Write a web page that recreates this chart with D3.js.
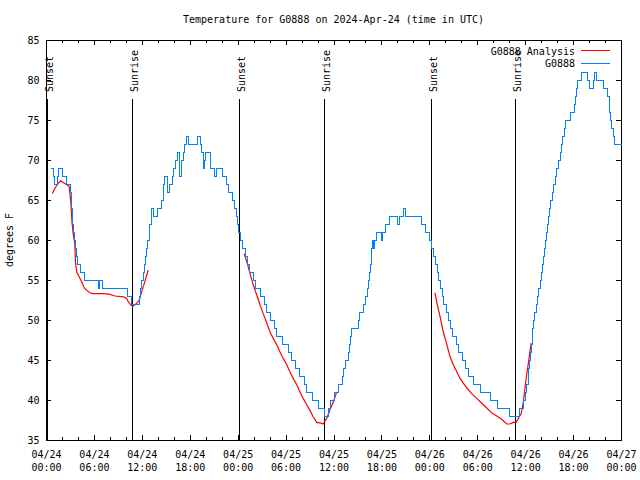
<!DOCTYPE html>
<html><head><meta charset="utf-8">
<script src="https://cdn.jsdelivr.net/npm/d3@7"></script>
<style>
body{margin:0;background:#fff}
svg{display:block;background:#fff}
text{font-family:"DejaVu Sans Mono","Liberation Mono",monospace;font-size:10px;fill:#000}
</style>
</head><body>
<svg id="c" width="640" height="480"></svg>
<script>
// ---------- data ----------
const chartTitle = "Temperature for G0888 on 2024-Apr-24 (time in UTC)";
const yAxisLabel = "degrees F";
const startTime = "2024-04-24T00:00:00Z";
const endTime = "2024-04-27T00:00:00Z";
const yTicks = [35, 40, 45, 50, 55, 60, 65, 70, 75, 80, 85];
const seriesNames = ["G0888 Analysis", "G0888"];
const seriesColors = ["#ff0000", "#0080ff"];

// observed (hours after 04/24 00:00 UTC, deg F), step data
const blueHours = [0.5,0.9,1.0,1.4,1.5,1.95,2.5,3.0,3.1,3.15,3.2,3.3,3.4,3.5,3.6,3.75,3.9,4.2,4.75,6.45,6.6,6.95,10.2,10.6,11.6,11.8,11.95,12.1,12.25,12.4,12.55,12.7,12.85,12.95,13.1,13.2,13.35,13.9,14.4,14.6,14.7,14.8,15.2,15.4,15.75,15.95,16.1,16.4,16.7,16.85,17.1,17.3,17.55,17.75,18.95,19.25,19.45,19.6,19.75,19.95,20.5,21.0,21.3,22.0,22.5,22.8,23.35,23.55,23.75,23.9,24.1,24.35,24.6,24.9,25.15,25.4,25.95,26.15,26.85,27.35,27.5,28.0,28.55,28.8,29.55,30.3,30.65,31.15,31.65,32.3,32.5,33.3,34.05,34.75,35.25,35.55,36.1,36.55,37.05,37.25,37.45,37.8,37.95,38.05,38.25,39.05,39.25,39.75,40.0,40.15,40.3,40.45,40.55,40.65,40.7,40.8,40.95,41.1,41.3,41.9,42.1,42.4,42.9,43.95,44.15,44.7,44.9,46.95,47.4,47.9,48.2,48.45,48.7,48.9,49.1,49.3,49.55,49.65,50.1,50.35,50.6,50.85,51.4,51.65,52.05,52.5,52.8,53.5,54.3,55.6,56.45,57.95,59.25,59.7,59.95,60.1,60.3,60.4,60.5,60.6,60.7,60.8,60.9,61.0,61.15,61.35,61.5,61.6,61.8,62.0,62.1,62.2,62.35,62.5,62.65,62.75,62.85,62.95,63.05,63.35,63.5,63.7,63.9,64.05,64.3,64.45,64.65,64.85,65.0,65.6,66.1,66.3,66.4,66.55,67.05,67.7,67.95,68.45,68.65,68.9,69.7,70.3,70.45,70.55,70.65,70.75,70.95,71.15,72.0];
const blueTemps = [69,68,67,68,69,68,67,66,65,64,63,62,61,60,59,58,57,56,55,54,55,54,53,52,53,54,55,56,57,58,59,60,61,62,63,64,63,64,65,66,67,68,66,67,68,69,70,71,68,70,71,72,73,72,73,72,71,69,70,71,69,68,69,68,67,66,65,64,63,62,61,60,59,58,57,56,55,54,53,52,51,50,49,48,47,46,45,44,43,42,41,40,39,38,39,40,41,42,43,44,45,46,47,48,49,50,51,52,53,54,55,56,57,58,59,60,59,60,61,60,61,62,63,62,63,64,63,62,61,60,59,58,57,56,55,54,53,52,51,50,49,48,47,46,45,44,43,42,41,40,39,38,39,40,41,42,43,44,45,46,47,48,49,50,51,52,53,54,55,56,57,58,59,60,61,62,63,64,65,66,67,68,69,70,71,72,73,74,75,76,77,78,79,80,81,80,79,80,81,80,79,78,77,76,75,74,73,72,72];

// analysis (hours after 04/24 00:00 UTC, deg F); null = gap
const redHours = [0.8,1.13,1.55,1.85,2.15,2.6,2.9,3.1,3.25,3.4,3.6,3.7,3.85,4.15,4.45,4.8,5.1,5.5,5.9,7.2,8.0,8.65,9.7,10.1,10.3,10.6,10.85,11.15,11.45,11.7,11.9,12.2,12.5,12.8,
  18,
  24.8,25.2,25.55,25.95,26.4,26.8,27.2,27.65,28.05,28.45,28.9,29.3,29.7,30.15,30.55,30.95,31.4,31.8,32.2,32.65,33.05,33.45,33.9,34.45,34.7,35.15,35.55,36.0,36.4,
  42,
  48.7,49.0,49.35,49.75,50.2,50.6,51.0,51.45,51.85,52.25,52.7,53.3,53.95,54.55,55.2,55.8,56.45,57.05,57.7,58.1,58.5,58.85,59.15,59.5,59.75,60.1,60.4,60.75];
const redTemps = [65.8,66.5,67.1,67.4,67.2,66.9,66.7,64.8,62.3,60.8,59.6,57.1,56.0,55.4,54.8,54.0,53.7,53.4,53.3,53.3,53.2,53.0,52.9,52.7,52.3,51.9,51.75,51.9,52.2,52.5,53.3,54.2,55.2,56.25,
  null,
  58.3,57.1,55.8,54.4,53.1,51.9,50.8,49.6,48.5,47.7,46.9,46.0,45.2,44.4,43.5,42.7,41.9,41.0,40.2,39.4,38.7,37.9,37.2,37.1,37.0,37.7,38.75,39.8,41.0,
  null,
  53.4,51.9,50.4,48.5,46.9,45.4,44.4,43.5,42.7,42.1,41.5,40.8,40.2,39.6,39.0,38.4,38.0,37.6,37.0,37.0,37.2,37.2,37.7,38.3,39.6,42.5,44.6,47.1];

const sunLabels = ["Sunset", "Sunrise", "Sunset", "Sunrise", "Sunset", "Sunrise"];
const sunTimes = ["2024-04-24T00:08:00Z", "2024-04-24T10:47:00Z", "2024-04-25T00:09:00Z",
                  "2024-04-25T10:45:00Z", "2024-04-26T00:10:00Z", "2024-04-26T10:44:00Z"];

// ---------- drawing ----------
const svg = d3.select("#c");
const L = 46, R = 621, T = 40, B = 440;
const t0 = new Date(startTime), t1 = new Date(endTime);
const x = d3.scaleUtc().domain([t0, t1]).range([L, R]);
const y = d3.scaleLinear().domain([35, 85]).range([B, T]);
const hr = h => new Date(t0.getTime() + h * 3600000);

svg.append("rect").attr("width", 640).attr("height", 480).attr("fill", "#fff");

// title
svg.append("text").attr("x", (L + R) / 2).attr("y", 23).attr("text-anchor", "middle").text(chartTitle);
// y label
svg.append("text").attr("transform", "translate(13,240) rotate(-90)").attr("text-anchor", "middle").text(yAxisLabel);

function styleAxis(g) {
  g.select(".domain").remove();
  g.selectAll("line").attr("stroke", "#000").attr("shape-rendering", "crispEdges");
}

const majorTicks = x.ticks(d3.utcHour.every(6));
const minorTicks = x.ticks(d3.utcHour.every(2)).filter(d => d.getUTCHours() % 6 !== 0);

// bottom axis (major with two-line labels)
const fD = d3.utcFormat("%m/%d"), fT = d3.utcFormat("%H:%M");
const gb = svg.append("g").attr("transform", `translate(0,${B})`)
  .call(d3.axisBottom(x).tickValues(majorTicks).tickSize(-5).tickFormat(fD));
styleAxis(gb);
gb.selectAll(".tick text").each(function(d) {
  const t = d3.select(this).attr("y", null).attr("dy", null).text(null).attr("fill", "#000");
  t.append("tspan").attr("x", 0).attr("y", 18).text(fD(d));
  t.append("tspan").attr("x", 0).attr("y", 31).text(fT(d));
});
gb.selectAll("text").style("font-family", null).style("font-size", null);
gb.attr("font-family", null).attr("font-size", null);
// minor bottom
styleAxis(svg.append("g").attr("transform", `translate(0,${B})`)
  .call(d3.axisBottom(x).tickValues(minorTicks).tickSize(-3).tickFormat("")));
// top mirror
styleAxis(svg.append("g").attr("transform", `translate(0,${T})`)
  .call(d3.axisTop(x).tickValues(majorTicks).tickSize(-5).tickFormat("")));
styleAxis(svg.append("g").attr("transform", `translate(0,${T})`)
  .call(d3.axisTop(x).tickValues(minorTicks).tickSize(-3).tickFormat("")));
// left
const gl = svg.append("g").attr("transform", `translate(${L},0)`)
  .call(d3.axisLeft(y).tickValues(yTicks).tickSize(-5).tickPadding(6.5));
styleAxis(gl);
gl.attr("font-family", null).attr("font-size", null);
gl.selectAll("text").attr("fill", "#000");
// right mirror
styleAxis(svg.append("g").attr("transform", `translate(${R},0)`)
  .call(d3.axisRight(y).tickValues(yTicks).tickSize(-5).tickFormat("")));

// sunrise / sunset lines
const sun = sunTimes.map((s, i) => ({ t: new Date(s), label: sunLabels[i] }));
svg.append("g").selectAll("line").data(sun).join("line")
  .attr("x1", d => Math.round(x(d.t)) + 0.5).attr("x2", d => Math.round(x(d.t)) + 0.5)
  .attr("y1", 99).attr("y2", B)
  .attr("stroke", "#000").attr("stroke-width", 1).attr("shape-rendering", "crispEdges");
svg.append("g").selectAll("text").data(sun).join("text")
  .attr("transform", d => `translate(${Math.round(x(d.t)) + 5.5},92) rotate(-90)`)
  .attr("text-anchor", "start").text(d => d.label);

// border
svg.append("rect").attr("x", L + 0.5).attr("y", T + 0.5).attr("width", R - L).attr("height", B - T)
  .attr("fill", "none").attr("stroke", "#000").attr("shape-rendering", "crispEdges");

// series
const redData = redHours.map((h, i) => ({ t: hr(h), v: redTemps[i] }));
const blueData = blueHours.map((h, i) => ({ t: hr(h), v: blueTemps[i] }));

svg.append("path").datum(redData)
  .attr("d", d3.line().defined(d => d.v != null).x(d => x(d.t)).y(d => y(d.v)))
  .attr("fill", "none").attr("stroke", seriesColors[0]).attr("stroke-width", 1.2);

svg.append("path").datum(blueData)
  .attr("d", d3.line().curve(d3.curveStepAfter).x(d => Math.round(x(d.t)) + 0.5).y(d => Math.round(y(d.v)) + 0.5))
  .attr("fill", "none").attr("stroke", seriesColors[1]).attr("stroke-width", 1.3)
  .attr("shape-rendering", "crispEdges");

// legend
const leg = svg.append("g");
const legRows = [{ name: seriesNames[0], color: seriesColors[0], yy: 50 }, { name: seriesNames[1], color: seriesColors[1], yy: 62.5 }];
legRows.forEach(r => {
  leg.append("text").attr("x", 575).attr("y", r.yy + 4.5).attr("text-anchor", "end").text(r.name);
  leg.append("line").attr("x1", 581).attr("x2", 610).attr("y1", Math.round(r.yy) + 0.5).attr("y2", Math.round(r.yy) + 0.5)
    .attr("stroke", r.color).attr("stroke-width", 1.2).attr("shape-rendering", "crispEdges");
});
</script>
</body></html>
